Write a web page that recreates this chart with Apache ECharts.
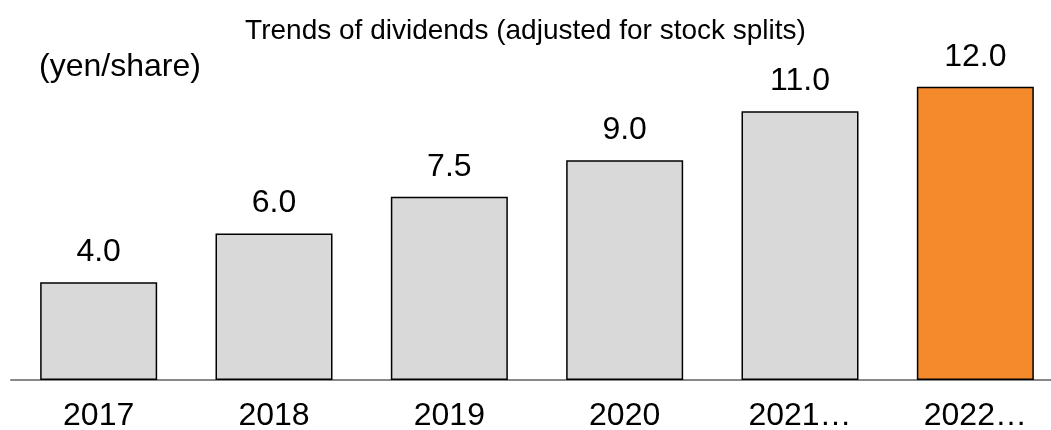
<!DOCTYPE html>
<html><head><meta charset="utf-8">
<script src="https://cdn.jsdelivr.net/npm/echarts@6/dist/echarts.min.js"></script>
<style>html,body{margin:0;padding:0;background:#fff}#c{width:1051px;height:430px}</style>
</head><body><div id="c"></div>
<script>
const categories = ['2017', '2018', '2019', '2020', '2021…', '2022…'];
const dividends = [4.0, 6.0, 7.5, 9.0, 11.0, 12.0];
const barColors = ['#d9d9d9', '#d9d9d9', '#d9d9d9', '#d9d9d9', '#d9d9d9', '#f58a2c'];
const titleText = 'Trends of dividends (adjusted for stock splits)';
const unitText = '(yen/share)';

const FONT = '"Liberation Sans", Arial, sans-serif';
const chart = echarts.init(document.getElementById('c'));
chart.setOption({
  animation: false,
  textStyle: { fontFamily: FONT },
  title: [
    { text: titleText, left: 'center', top: 12, textStyle: { fontFamily: FONT, fontSize: 28, fontWeight: 'normal', color: '#000' } },
    { text: unitText, left: 34, top: 46, textStyle: { fontFamily: FONT, fontSize: 32, fontWeight: 'normal', color: '#000' } }
  ],
  grid: { left: 11, width: 1052, top: 38, bottom: 50, containLabel: false, outerBoundsMode: 'none' },
  xAxis: {
    type: 'category', data: categories,
    axisLine: { lineStyle: { color: '#888', width: 2 } },
    axisTick: { show: false },
    axisLabel: { fontFamily: FONT, fontSize: 32, color: '#000', margin: 20 }
  },
  yAxis: { type: 'value', min: 0, max: 14, show: false, splitLine: { show: false } },
  series: [{
    type: 'bar', barWidth: 117,
    data: dividends.map((v, i) => ({ value: v, itemStyle: { color: barColors[i] } })),
    itemStyle: { borderColor: '#000', borderWidth: 1.5 },
    label: { show: true, position: 'top', distance: 14, fontFamily: FONT, fontSize: 32, color: '#000', formatter: p => p.value.toFixed(1) }
  }]
});
</script></body></html>
